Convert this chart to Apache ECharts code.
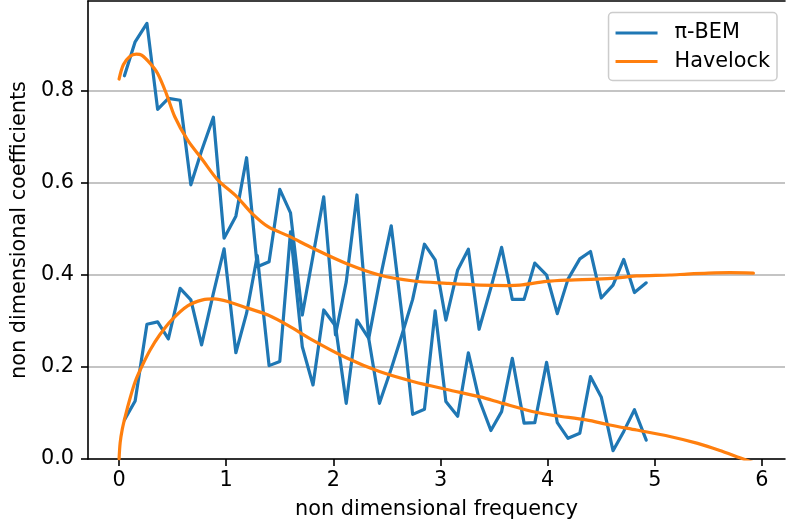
<!DOCTYPE html>
<html>
<head>
<meta charset="utf-8">
<script src="https://cdn.jsdelivr.net/npm/echarts@6/dist/echarts.min.js"></script>
<style>html,body{margin:0;padding:0;background:#fff}#c{width:786px;height:529px}</style>
</head>
<body>
<div id="c"></div>
<script>
// π-BEM sample frequencies
const bemX = [0.05, 0.15, 0.26, 0.36, 0.46, 0.57, 0.67, 0.77, 0.88, 0.98, 1.09, 1.19, 1.29, 1.40, 1.50, 1.60, 1.71, 1.81, 1.91, 2.02, 2.12, 2.22, 2.33, 2.43, 2.54, 2.64, 2.74, 2.85, 2.95, 3.05, 3.16, 3.26, 3.36, 3.47, 3.57, 3.67, 3.78, 3.88, 3.99, 4.09, 4.19, 4.30, 4.40, 4.50, 4.61, 4.71, 4.81, 4.92];
// π-BEM coefficient curve A (starts high)
const bemA = [0.833, 0.907, 0.947, 0.760, 0.784, 0.780, 0.596, 0.670, 0.743, 0.480, 0.528, 0.655, 0.418, 0.429, 0.586, 0.535, 0.313, 0.442, 0.570, 0.270, 0.385, 0.574, 0.262, 0.385, 0.507, 0.313, 0.097, 0.108, 0.322, 0.125, 0.093, 0.231, 0.130, 0.062, 0.103, 0.219, 0.078, 0.079, 0.210, 0.079, 0.045, 0.056, 0.179, 0.135, 0.018, 0.060, 0.107, 0.041];
// π-BEM coefficient curve B (starts low)
const bemB = [0.085, 0.126, 0.293, 0.298, 0.261, 0.371, 0.346, 0.248, 0.360, 0.457, 0.231, 0.317, 0.442, 0.203, 0.212, 0.494, 0.244, 0.161, 0.324, 0.289, 0.121, 0.302, 0.262, 0.121, 0.196, 0.270, 0.347, 0.467, 0.433, 0.302, 0.411, 0.456, 0.282, 0.372, 0.460, 0.347, 0.347, 0.426, 0.400, 0.316, 0.391, 0.435, 0.451, 0.350, 0.378, 0.434, 0.362, 0.383];
// Havelock upper curve
const hvUX = [0, 0.04, 0.10, 0.16, 0.21, 0.29, 0.36, 0.44, 0.52, 0.64, 0.78, 0.92, 1.10, 1.24, 1.39, 1.58, 1.81, 2.12, 2.43, 2.75, 3.06, 3.37, 3.63, 3.74, 3.99, 4.21, 4.46, 4.70, 4.83, 5.14, 5.30, 5.50, 5.70, 5.92];
const hvUY = [0.826, 0.857, 0.875, 0.880, 0.878, 0.860, 0.838, 0.795, 0.744, 0.693, 0.650, 0.607, 0.570, 0.534, 0.505, 0.485, 0.458, 0.425, 0.400, 0.387, 0.382, 0.378, 0.377, 0.378, 0.386, 0.389, 0.391, 0.395, 0.398, 0.400, 0.402, 0.404, 0.405, 0.404];
// Havelock lower curve
const hvLX = [0, 0.01, 0.03, 0.06, 0.10, 0.15, 0.21, 0.29, 0.38, 0.49, 0.64, 0.78, 0.89, 1.02, 1.20, 1.39, 1.58, 1.81, 2.12, 2.43, 2.75, 3.06, 3.37, 3.58, 3.90, 4.08, 4.36, 4.58, 4.83, 5.14, 5.40, 5.60, 5.80, 5.92];
const hvLY = [0, 0.035, 0.065, 0.095, 0.130, 0.168, 0.200, 0.237, 0.270, 0.302, 0.333, 0.346, 0.348, 0.342, 0.328, 0.313, 0.290, 0.258, 0.220, 0.190, 0.168, 0.151, 0.135, 0.121, 0.101, 0.094, 0.085, 0.074, 0.063, 0.049, 0.034, 0.019, 0.002, -0.008];
// tick labels
const xTicks = [0, 1, 2, 3, 4, 5, 6];
const yTicks = [0, 0.2, 0.4, 0.6, 0.8];

const zip = (xs, ys) => xs.map((x, i) => [x, ys[i]]);
const FONT = 'DejaVu Sans';
const FS = 20.8;
const BLUE = '#1f77b4', ORANGE = '#ff7f0e';

const chart = echarts.init(document.getElementById('c'), null, {renderer: 'canvas'});
const lineSeries = (name, data, color, smooth) => ({
  name, type: 'line', data, showSymbol: false, symbol: 'none', smooth: smooth || false,
  clip: true, xAxisIndex: 0, yAxisIndex: 0,
  lineStyle: {color, width: 3.2, cap: 'round', join: 'round'}, itemStyle: {color},
  animation: false
});
chart.setOption({
  animation: false,
  textStyle: {fontFamily: FONT},
  grid: {left: 88, right: 1, top: 1, bottom: 70, containLabel: false},
  legend: {
    orient: 'vertical', right: 9, top: 12.5,
    data: [{name: 'π-BEM', icon: 'rect'}, {name: 'Havelock', icon: 'rect'}],
    itemWidth: 42, itemHeight: 3, itemGap: 7.5,
    padding: [10, 7, 8.5, 7],
    backgroundColor: 'rgba(255,255,255,0.8)', borderColor: '#cccccc', borderWidth: 1.5, borderRadius: 4,
    textStyle: {fontFamily: FONT, fontSize: FS, color: '#000', padding: [0, 0, 0, 12]}
  },
  xAxis: [{
    type: 'value', min: -0.29, max: 6.215, position: 'bottom',
    name: 'non dimensional frequency', nameLocation: 'middle', nameGap: 40,
    nameTextStyle: {fontFamily: FONT, fontSize: FS, color: '#000'},
    axisLine: {show: true, onZero: false, lineStyle: {color: '#000', width: 1.6}},
    axisTick: {show: true, length: 7, customValues: xTicks, lineStyle: {color: '#000', width: 1.6}},
    axisLabel: {show: true, customValues: xTicks, margin: 11, fontFamily: FONT, fontSize: FS, color: '#000',
      formatter: v => xTicks.includes(v) ? String(v) : ''},
    splitLine: {show: false}
  }, {
    type: 'value', min: -0.29, max: 6.215, position: 'top',
    axisLine: {show: true, onZero: false, lineStyle: {color: '#000', width: 1.6}},
    axisTick: {show: false}, axisLabel: {show: false}, splitLine: {show: false}
  }],
  yAxis: [{
    type: 'value', min: 0, max: 0.9957, interval: 0.2,
    name: 'non dimensional coefficients', nameLocation: 'middle', nameGap: 57, nameRotate: 90,
    nameTextStyle: {fontFamily: FONT, fontSize: FS, color: '#000'},
    axisLine: {show: true, onZero: false, lineStyle: {color: '#000', width: 1.6}},
    axisTick: {show: true, length: 7, customValues: yTicks, lineStyle: {color: '#000', width: 1.6}},
    axisLabel: {show: true, customValues: yTicks, margin: 14, fontFamily: FONT, fontSize: FS, color: '#000',
      formatter: v => yTicks.some(t => Math.abs(t - v) < 1e-9) ? v.toFixed(1) : ''},
    splitLine: {show: true, lineStyle: {color: '#b0b0b0', width: 1.6}}
  }],
  series: [
    lineSeries('π-BEM', zip(bemX, bemA), BLUE),
    lineSeries('π-BEM', zip(bemX, bemB), BLUE),
    lineSeries('Havelock', zip(hvUX, hvUY), ORANGE, 0.3),
    lineSeries('Havelock', zip(hvLX, hvLY), ORANGE, 0.3)
  ]
});
</script>
</body>
</html>
